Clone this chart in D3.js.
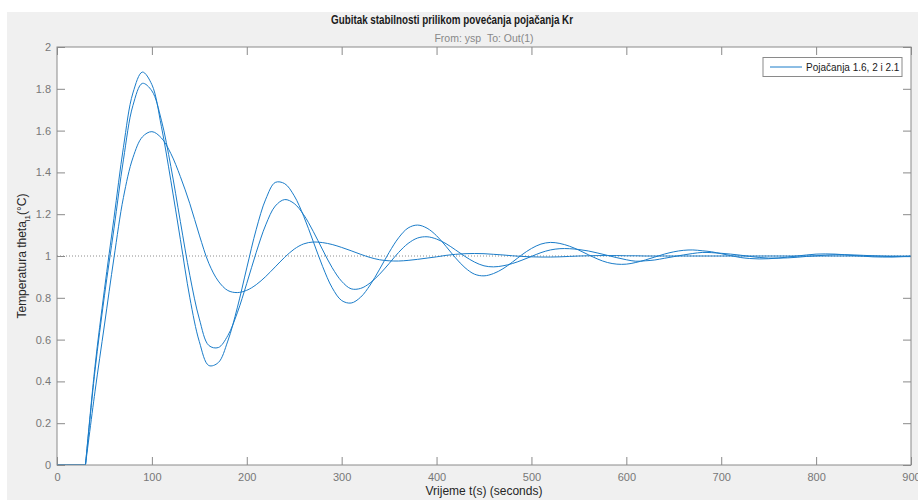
<!DOCTYPE html>
<html>
<head>
<meta charset="utf-8">
<script src="https://cdn.jsdelivr.net/npm/d3@7"></script>
<style>
  body { margin: 0; background: #fff; }
  text { font-family: "Liberation Sans", Arial, sans-serif; }
</style>
</head>
<body>
<div id="chart"></div>
<script>
// sample times (s), read every 10 s off the picture
const time = [0,10,20,30,40,50,60,70,80,90,100,110,120,130,140,150,160,170,180,190,200,210,220,230,240,250,260,270,280,290,300,310,320,330,340,350,360,370,380,390,400,410,420,430,440,450,460,470,480,490,500,510,520,530,540,550,560,570,580,590,600,610,620,630,640,650,660,670,680,690,700,710,720,730,740,750,760,770,780,790,800,810,820,830,840,850,860,870,880,890,900];
const dead_time = 30;

// gain 2.1
const y_k21 = [0,0,0,0,0.47,0.84,1.18,1.52,1.78,1.88,1.82,1.62,1.36,1.08,0.80,0.59,0.476,0.49,0.593,0.752,0.943,1.128,1.272,1.352,1.346,1.288,1.190,1.070,0.949,0.848,0.787,0.775,0.803,0.861,0.937,1.017,1.087,1.134,1.148,1.133,1.097,1.046,0.991,0.944,0.913,0.905,0.916,0.939,0.971,1.006,1.036,1.057,1.065,1.060,1.047,1.028,1.006,0.985,0.969,0.961,0.961,0.969,0.981,0.995,1.009,1.020,1.027,1.029,1.025,1.020,1.011,1.002,0.993,0.988,0.986,0.987,0.990,0.995,1.000,1.005,1.009,1.010,1.009,1.006,1.002,0.999,0.996,0.995,0.995,0.997,0.999];
// gain 2
const y_k2 = [0,0,0,0,0.45,0.81,1.13,1.46,1.72,1.826,1.790,1.650,1.428,1.165,0.907,0.699,0.572,0.562,0.619,0.728,0.869,1.018,1.149,1.239,1.270,1.251,1.197,1.118,1.029,0.944,0.879,0.843,0.845,0.871,0.913,0.964,1.017,1.060,1.086,1.092,1.081,1.059,1.029,0.998,0.971,0.953,0.948,0.953,0.964,0.980,0.998,1.016,1.029,1.035,1.035,1.031,1.024,1.014,1.003,0.992,0.982,0.975,0.977,0.981,0.989,0.997,1.005,1.012,1.017,1.016,1.013,1.009,1.004,0.998,0.993,0.990,0.990,0.991,0.994,0.998,1.001,1.004,1.006,1.006,1.005,1.003,1.001,0.999,0.997,0.997,0.997];
// gain 1.6
const y_k16 = [0,0,0,0,0.35,0.67,0.99,1.28,1.47,1.57,1.595,1.565,1.49,1.38,1.25,1.10,0.965,0.88,0.835,0.825,0.836,0.863,0.902,0.948,0.994,1.033,1.058,1.067,1.064,1.055,1.041,1.025,1.008,0.993,0.982,0.977,0.976,0.979,0.984,0.990,0.996,1.003,1.008,1.011,1.012,1.011,1.008,1.005,1.001,0.998,0.996,0.995,0.995,0.996,0.998,1.000,1.001,1.002,1.002,1.002,1.001,1.001,1.000,1.000,1.000,1.000,1.000,1.000,1.000,1.000,1.000,1.000,1.000,1.000,1.000,1.000,1.000,1.000,1.000,1.000,1.000,1.000,1.000,1.000,1.000,1.000,1.000,1.000,1.000,1.000,1.000];

const series = [y_k16, y_k2, y_k21];
const x_ticks = [0,100,200,300,400,500,600,700,800,900];
const y_ticks = [0,0.2,0.4,0.6,0.8,1,1.2,1.4,1.6,1.8,2];
const legend_label = 'Pojačanja 1.6, 2 i 2.1';

const width = 918, height = 500;
const ax_left = 57, ax_right = 911, ax_top = 47, ax_bottom = 465;
const line_color = '#1a7cc9';
const axis_color = '#8a8a8a';
const label_color = '#777';

const svg = d3.select('#chart').append('svg')
  .attr('width', width)
  .attr('height', height);

// figure background
svg.append('rect').attr('x', 7).attr('y', 12)
  .attr('width', width - 7).attr('height', height - 12)
  .attr('fill', '#f0f0f0');
svg.append('rect').attr('x', ax_left).attr('y', ax_top)
  .attr('width', ax_right - ax_left).attr('height', ax_bottom - ax_top)
  .attr('fill', '#fff');

const x = d3.scaleLinear().domain([0, 900]).range([ax_left, ax_right]);
const y = d3.scaleLinear().domain([0, 2]).range([ax_bottom, ax_top]);

// axes with inward ticks
function style_axis(g) {
  g.select('.domain').remove();
  g.selectAll('.tick line').attr('stroke', axis_color);
  g.selectAll('.tick text').attr('fill', label_color).attr('font-size', 11);
}
svg.append('g').attr('transform', `translate(0,${ax_bottom})`)
  .call(d3.axisBottom(x).tickValues(x_ticks).tickSize(-8).tickPadding(8).tickFormat(d3.format('d')))
  .call(style_axis);
svg.append('g').attr('transform', `translate(0,${ax_top})`)
  .call(d3.axisTop(x).tickValues(x_ticks).tickSize(-8).tickFormat(''))
  .call(style_axis);
svg.append('g').attr('transform', `translate(${ax_left},0)`)
  .call(d3.axisLeft(y).tickValues(y_ticks).tickSize(-8).tickPadding(6).tickFormat(d => String(+d.toFixed(1))))
  .call(style_axis);
svg.append('g').attr('transform', `translate(${ax_right},0)`)
  .call(d3.axisRight(y).tickValues(y_ticks).tickSize(-8).tickFormat(''))
  .call(style_axis);

// reference line at 1
svg.append('line')
  .attr('x1', x(0)).attr('x2', x(900))
  .attr('y1', y(1)).attr('y2', y(1))
  .attr('stroke', '#8c8c8c').attr('stroke-width', 1)
  .attr('stroke-dasharray', '1,2');

svg.append('clipPath').attr('id', 'clip')
  .append('rect').attr('x', ax_left).attr('y', ax_top)
  .attr('width', ax_right - ax_left).attr('height', ax_bottom - ax_top);

// flat part before the dead time is straight, the response after it smooth
const flat_line = d3.line()
  .defined((d, i) => time[i] <= dead_time)
  .x((d, i) => x(time[i]))
  .y(d => y(d));
const resp_line = d3.line()
  .defined((d, i) => time[i] >= dead_time)
  .x((d, i) => x(time[i]))
  .y(d => y(d))
  .curve(d3.curveCatmullRom.alpha(0.5));

const plot = svg.append('g').attr('clip-path', 'url(#clip)');
series.forEach(s => {
  plot.append('path').attr('d', flat_line(s) + resp_line(s))
    .attr('fill', 'none')
    .attr('stroke', line_color)
    .attr('stroke-width', 1);
});

// box
svg.append('rect').attr('x', ax_left).attr('y', ax_top)
  .attr('width', ax_right - ax_left).attr('height', ax_bottom - ax_top)
  .attr('fill', 'none').attr('stroke', axis_color);

// titles
svg.append('text').attr('x', 452).attr('y', 24)
  .attr('text-anchor', 'middle').attr('font-size', 12).attr('font-weight', 'bold')
  .attr('textLength', 242).attr('lengthAdjust', 'spacingAndGlyphs')
  .attr('fill', '#1a1a1a')
  .text('Gubitak stabilnosti prilikom povećanja pojačanja Kr');
svg.append('text').attr('x', (ax_left + ax_right) / 2).attr('y', 42)
  .attr('text-anchor', 'middle').attr('font-size', 10.5).attr('fill', '#888')
  .text('From: ysp\u00a0\u00a0To: Out(1)');

svg.append('text').attr('x', (ax_left + ax_right) / 2).attr('y', 495)
  .attr('text-anchor', 'middle').attr('font-size', 12).attr('fill', '#262626')
  .text('Vrijeme t(s) (seconds)');

const ylab = svg.append('text')
  .attr('transform', `translate(26,${(ax_top + ax_bottom) / 2}) rotate(-90)`)
  .attr('text-anchor', 'middle').attr('font-size', 12).attr('fill', '#262626');
ylab.append('tspan').text('Temperatura theta');
ylab.append('tspan').attr('font-size', 8).attr('dy', 4).text('i1');
ylab.append('tspan').attr('dy', -4).text('(°C)');

// legend
const lg = svg.append('g');
lg.append('rect').attr('x', 763).attr('y', 57.5).attr('width', 139).attr('height', 19)
  .attr('fill', '#fff').attr('stroke', axis_color);
lg.append('line').attr('x1', 770).attr('x2', 802).attr('y1', 67).attr('y2', 67)
  .attr('stroke', line_color).attr('stroke-width', 1);
lg.append('text').attr('x', 806).attr('y', 70.5).attr('font-size', 10).attr('fill', '#1a1a1a')
  .text(legend_label);
</script>
</body>
</html>
